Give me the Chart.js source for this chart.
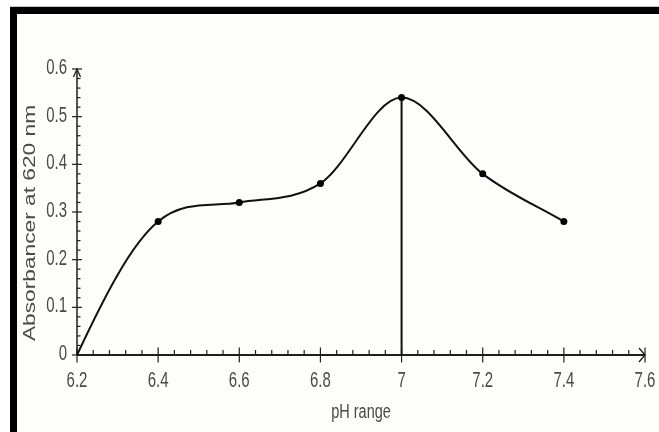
<!DOCTYPE html>
<html>
<head>
<meta charset="utf-8">
<script src="https://cdn.jsdelivr.net/npm/chart.js@4/dist/chart.umd.min.js"></script>
<style>
html,body{margin:0;padding:0;background:#fff;}
#c{display:block;}
</style>
</head>
<body>
<canvas id="c" width="659" height="432"></canvas>
<script>
// ---- data ----
const phValues   = [6.2, 6.4, 6.6, 6.8, 7.0, 7.2, 7.4];
const absorbance = [0, 0.28, 0.32, 0.36, 0.54, 0.38, 0.28];
const peakPh = 7.0;
const peakAbs = 0.54;

const xTickValues = [6.2, 6.4, 6.6, 6.8, 7.0, 7.2, 7.4, 7.6];
const xTickLabels = ['6.2', '6.4', '6.6', '6.8', '7', '7.2', '7.4', '7.6'];
const yTickValues = [0, 0.1, 0.2, 0.3, 0.4, 0.5, 0.6];
const yTickLabels = ['0', '0.1', '0.2', '0.3', '0.4', '0.5', '0.6'];
const xMinorPerMajor = 5;
const yMinorPerMajor = 5;
const xTitle = 'pH range';
const yTitle = 'Absorbancer at 620 nm';

const STRETCH = 1.42;
const TEXT = '#4a4a4a';
const AXIS = '#1e1e1e';

function stretchedText(ctx, text, x, y, size, align, baseline, rotate) {
  ctx.save();
  ctx.translate(x, y);
  if (rotate) { ctx.rotate(-Math.PI / 2); ctx.scale(STRETCH, 1); }
  else { ctx.scale(1, STRETCH); }
  ctx.font = size + 'px "Liberation Sans", Arial, sans-serif';
  ctx.fillStyle = TEXT;
  ctx.textAlign = align;
  ctx.textBaseline = baseline;
  ctx.fillText(text, 0, 0);
  ctx.restore();
}

const framePlugin = {
  id: 'frame',
  beforeDraw(chart) {
    const ctx = chart.ctx;
    ctx.save();
    ctx.fillStyle = '#ffffff';
    ctx.fillRect(0, 0, chart.width, chart.height);
    ctx.fillStyle = '#fdfdf9';
    ctx.fillRect(17, 14, chart.width - 17, chart.height - 14);
    ctx.fillStyle = '#c8c8c8';
    ctx.fillRect(10, 6, chart.width - 10, 1);
    ctx.fillStyle = '#000000';
    ctx.fillRect(10, 7, chart.width - 10, 7);
    ctx.fillRect(10, 7, 7, chart.height - 7);
    ctx.restore();
  }
};

const axesPlugin = {
  id: 'axes',
  beforeDatasetsDraw(chart) {
    const ctx = chart.ctx;
    const xs = chart.scales.x, ys = chart.scales.y;
    const x0 = xs.getPixelForValue(xs.min), x1 = xs.getPixelForValue(xs.max);
    const y0 = ys.getPixelForValue(ys.min), y1 = ys.getPixelForValue(ys.max);
    ctx.save();
    ctx.strokeStyle = AXIS;
    ctx.lineCap = 'butt';
    ctx.lineWidth = 1.8;
    ctx.beginPath(); ctx.moveTo(x0, y0); ctx.lineTo(x1, y0); ctx.stroke();
    ctx.lineWidth = 1.5;
    ctx.beginPath(); ctx.moveTo(x0, y0); ctx.lineTo(x0, y1); ctx.stroke();
    ctx.lineWidth = 1.2;
    for (let i = 0; i < xTickValues.length; i++) {
      const px = xs.getPixelForValue(xTickValues[i]);
      ctx.beginPath(); ctx.moveTo(px, y0 - 7.5); ctx.lineTo(px, y0 + 7.5); ctx.stroke();
      if (i < xTickValues.length - 1) {
        const step = (xTickValues[i + 1] - xTickValues[i]) / xMinorPerMajor;
        for (let k = 1; k < xMinorPerMajor; k++) {
          const mx = xs.getPixelForValue(xTickValues[i] + k * step);
          ctx.beginPath(); ctx.moveTo(mx, y0); ctx.lineTo(mx, y0 - 5); ctx.stroke();
        }
      }
      stretchedText(ctx, xTickLabels[i], px, y0 + 26, 15, 'center', 'middle', false);
    }
    for (let i = 0; i < yTickValues.length; i++) {
      const py = ys.getPixelForValue(yTickValues[i]);
      ctx.beginPath(); ctx.moveTo(x0 - 5, py); ctx.lineTo(x0 + 5, py); ctx.stroke();
      if (i < yTickValues.length - 1) {
        const step = (yTickValues[i + 1] - yTickValues[i]) / yMinorPerMajor;
        for (let k = 1; k < yMinorPerMajor; k++) {
          const my = ys.getPixelForValue(yTickValues[i] + k * step);
          ctx.beginPath(); ctx.moveTo(x0, my); ctx.lineTo(x0 + 3.5, my); ctx.stroke();
        }
      }
      stretchedText(ctx, yTickLabels[i], x0 - 10, py - 1, 15, 'right', 'middle', false);
    }
    ctx.lineWidth = 1.3;
    ctx.beginPath();
    ctx.moveTo(x1 - 6, y0 - 7); ctx.lineTo(x1, y0); ctx.lineTo(x1 - 6, y0 + 7);
    ctx.stroke();
    ctx.beginPath();
    ctx.moveTo(x0 - 3.5, y1 + 8); ctx.lineTo(x0, y1); ctx.lineTo(x0 + 3.5, y1 + 8);
    ctx.stroke();
    stretchedText(ctx, xTitle, (x0 + x1) / 2, y0 + 57, 14.5, 'center', 'middle', false);
    stretchedText(ctx, yTitle, 35, 223, 16, 'center', 'alphabetic', true);
    ctx.restore();
  }
};

// steeper start tangent for the first curve segment (as in the reference smoothing)
const startTangentPlugin = {
  id: 'startTangent',
  beforeDatasetDraw(chart, args) {
    if (args.index !== 0) return;
    const meta = args.meta;
    const line = meta.dataset;
    line.updateControlPoints(chart.chartArea, 'x');
    const p0 = meta.data[0], p1 = meta.data[1];
    if (!p0 || !p1) return;
    const dx = (p1.x - p0.x) / 3;
    const slope = (p1.y - p0.y) / (p1.x - p0.x) * 1.3;
    p0.cp2x = p0.x + dx;
    p0.cp2y = p0.y + dx * slope;
    const m1 = (p1.cp2y - p1.cp1y) / (p1.cp2x - p1.cp1x) * 1.2;
    p1.cp1y = p1.y - (p1.x - p1.cp1x) * m1;
    p1.cp2y = p1.y + (p1.cp2x - p1.x) * m1;
  }
};

const curvePoints = phValues.map((p, i) => ({ x: p, y: absorbance[i] }));

new Chart(document.getElementById('c'), {
  type: 'line',
  data: {
    datasets: [
      {
        data: curvePoints,
        borderColor: '#111111',
        borderWidth: 2,
        cubicInterpolationMode: 'monotone',
        fill: false,
        pointRadius: (c) => c.dataIndex === 0 ? 0 : 3.5,
        pointBackgroundColor: '#000000',
        pointBorderColor: '#000000',
        pointBorderWidth: 0,
        clip: false
      },
      {
        data: [{ x: peakPh, y: 0 }, { x: peakPh, y: peakAbs }],
        borderColor: '#111111',
        borderWidth: 2,
        tension: 0,
        pointRadius: 0,
        fill: false,
        clip: false
      }
    ]
  },
  options: {
    responsive: false,
    animation: false,
    devicePixelRatio: 1,
    layout: { padding: { left: 77, right: 14, top: 69, bottom: 77 } },
    plugins: { legend: { display: false }, tooltip: { enabled: false } },
    scales: {
      x: { type: 'linear', min: 6.2, max: 7.6, display: false },
      y: { type: 'linear', min: 0, max: 0.6, display: false }
    }
  },
  plugins: [framePlugin, axesPlugin, startTangentPlugin]
});
</script>
</body>
</html>
